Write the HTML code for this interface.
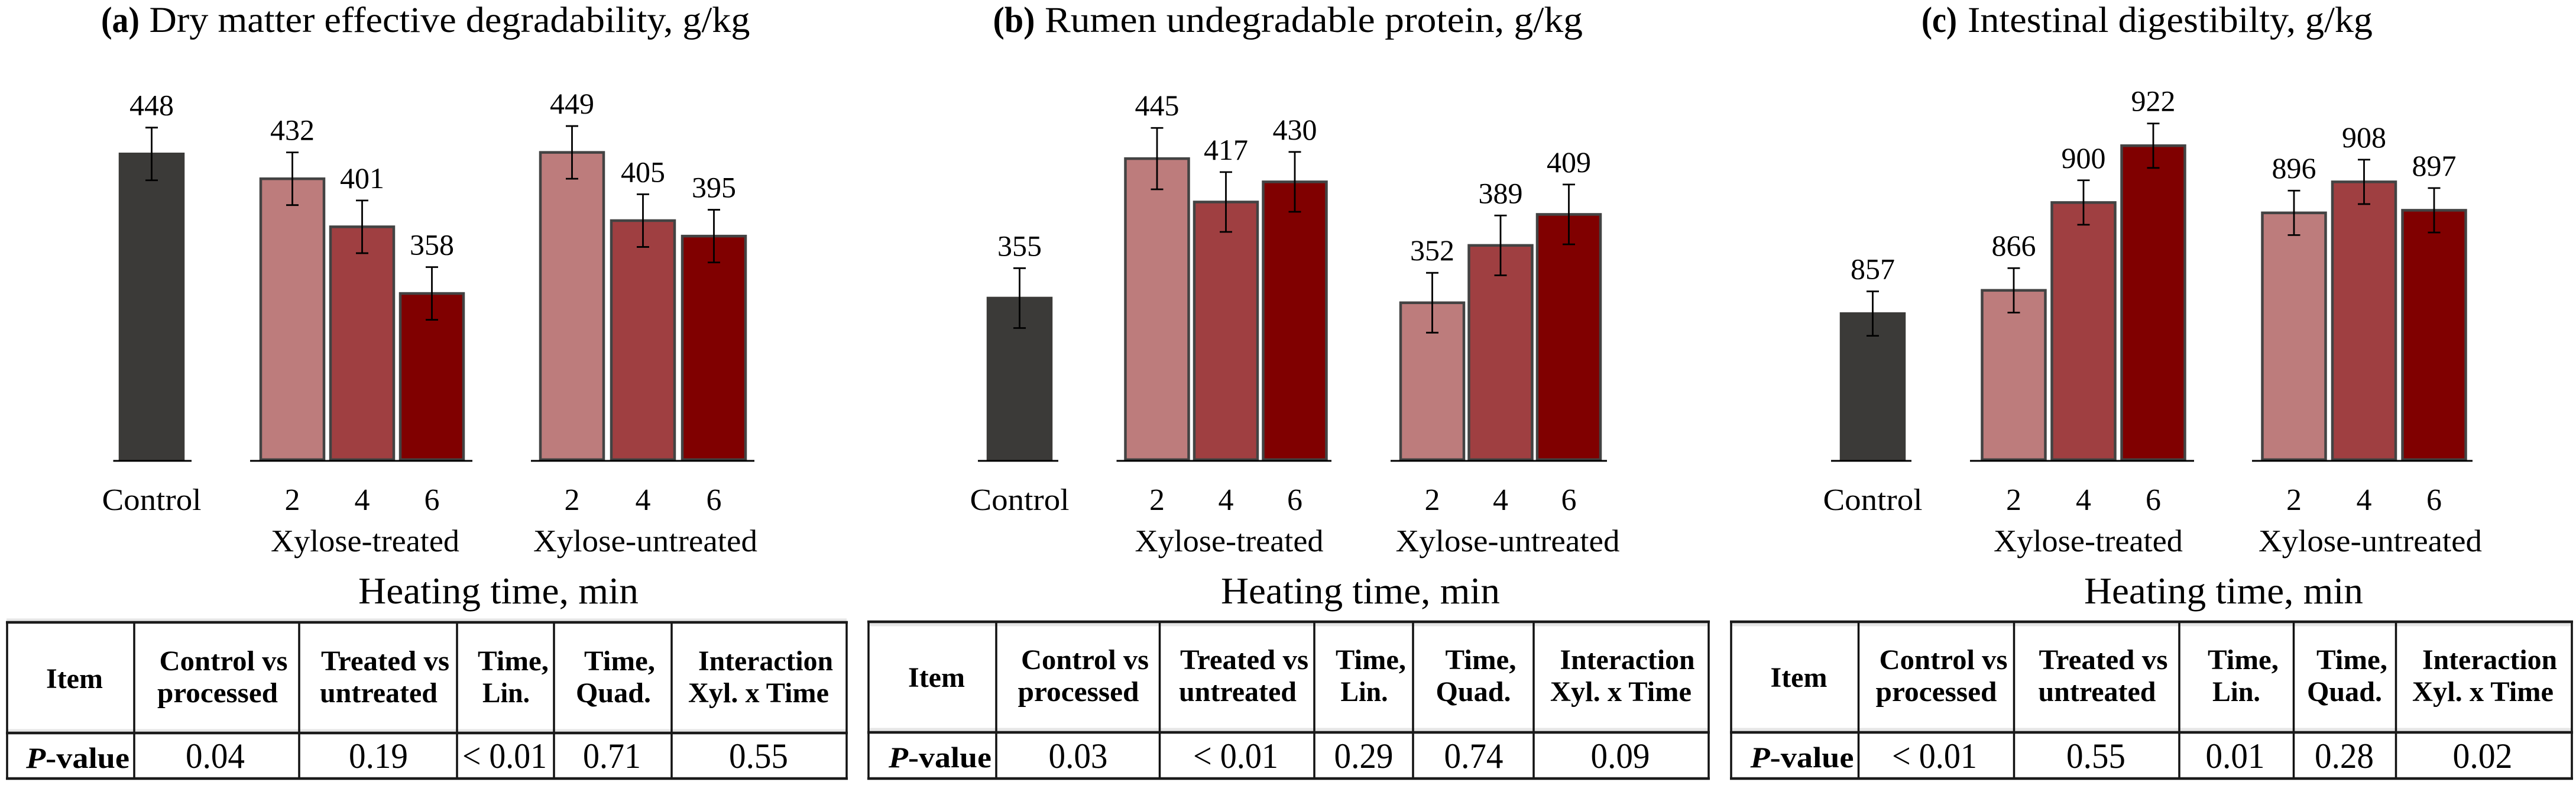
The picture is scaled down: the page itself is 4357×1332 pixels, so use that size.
<!DOCTYPE html>
<html lang="en">
<head>
<meta charset="utf-8">
<title>Xylose heating effects on degradability, protein and digestibility</title>
<style>
html,body{margin:0;padding:0;background:#fff;}
svg{display:block;}
text{font-family:"Liberation Serif",serif;fill:#000;}
.ttl{font-size:61px;}
.b{font-weight:bold;}
.cap{font-size:53px;}
.heat{font-size:63px;}
.th{font-size:48px;font-weight:bold;text-anchor:middle;}
.tv{font-size:60px;text-anchor:middle;}
.pv{font-size:50px;font-weight:bold;}
.pv tspan{font-style:italic;}
.m{text-anchor:middle;}
.halo{stroke:#e6e6e6;stroke-width:7;fill:none;}
.heavy{stroke:#1a1a1a;stroke-width:4.5;fill:none;}
.thin{stroke:#111;stroke-width:3.5;fill:none;}
</style>
</head>
<body>
<svg id="figure" xmlns="http://www.w3.org/2000/svg" width="4357" height="1332" viewBox="0 0 4357 1332">
<rect width="4357" height="1332" fill="#fff"/>

<g>
<text class="ttl b" x="171" y="54" textLength="65" lengthAdjust="spacingAndGlyphs">(a)</text>
<text class="ttl" x="252.5" y="54" textLength="1016" lengthAdjust="spacingAndGlyphs">Dry matter effective degradability, g/kg</text>
<text class="cap m" x="617.5" y="932" textLength="319" lengthAdjust="spacingAndGlyphs">Xylose-treated</text>
<text class="cap m" x="1091.5" y="932" textLength="379" lengthAdjust="spacingAndGlyphs">Xylose-untreated</text>
<text class="heat m" x="843" y="1020" textLength="474" lengthAdjust="spacingAndGlyphs">Heating time, min</text>
</g>
<g>
<text class="ttl b" x="1679.5" y="54" textLength="71" lengthAdjust="spacingAndGlyphs">(b)</text>
<text class="ttl" x="1767" y="54" textLength="910" lengthAdjust="spacingAndGlyphs">Rumen undegradable protein, g/kg</text>
<text class="cap m" x="2079" y="932" textLength="319" lengthAdjust="spacingAndGlyphs">Xylose-treated</text>
<text class="cap m" x="2550" y="932" textLength="379" lengthAdjust="spacingAndGlyphs">Xylose-untreated</text>
<text class="heat m" x="2301" y="1020" textLength="472" lengthAdjust="spacingAndGlyphs">Heating time, min</text>
</g>
<g>
<text class="ttl b" x="3250" y="54" textLength="60" lengthAdjust="spacingAndGlyphs">(c)</text>
<text class="ttl" x="3328" y="54" textLength="685" lengthAdjust="spacingAndGlyphs">Intestinal digestibilty, g/kg</text>
<text class="cap m" x="3532" y="932" textLength="320" lengthAdjust="spacingAndGlyphs">Xylose-treated</text>
<text class="cap m" x="4009" y="932" textLength="378" lengthAdjust="spacingAndGlyphs">Xylose-untreated</text>
<text class="heat m" x="3761" y="1020" textLength="472" lengthAdjust="spacingAndGlyphs">Heating time, min</text>
</g>

<g id="charts"></g>

<g>
<path class="halo" d="M11 1049H1432M11 1236H1432"/>
<path class="thin" d="M12 1052V1316M227 1052V1316M506 1052V1316M773 1052V1316M937 1052V1316M1136 1052V1316M1432 1052V1316"/>
<path class="heavy" d="M10 1052H1434M10 1239H1434M10 1316H1434"/>
<text class="th" x="126" y="1163" textLength="96" lengthAdjust="spacingAndGlyphs">Item</text>
<text class="th" x="378" y="1133" textLength="217" lengthAdjust="spacingAndGlyphs">Control vs</text>
<text class="th" x="368" y="1187" textLength="204" lengthAdjust="spacingAndGlyphs">processed</text>
<text class="th" x="651.5" y="1133" textLength="217" lengthAdjust="spacingAndGlyphs">Treated vs</text>
<text class="th" x="640.5" y="1187" textLength="199" lengthAdjust="spacingAndGlyphs">untreated</text>
<text class="th" x="868" y="1133" textLength="120" lengthAdjust="spacingAndGlyphs">Time,</text>
<text class="th" x="856" y="1187" textLength="80" lengthAdjust="spacingAndGlyphs">Lin.</text>
<text class="th" x="1048" y="1133" textLength="120" lengthAdjust="spacingAndGlyphs">Time,</text>
<text class="th" x="1037.5" y="1187" textLength="127" lengthAdjust="spacingAndGlyphs">Quad.</text>
<text class="th" x="1295" y="1133" textLength="228" lengthAdjust="spacingAndGlyphs">Interaction</text>
<text class="th" x="1283" y="1187" textLength="238" lengthAdjust="spacingAndGlyphs">Xyl. x Time</text>
<text class="pv" x="44" y="1298" textLength="175" lengthAdjust="spacingAndGlyphs"><tspan>P</tspan>-value</text>
<text class="tv" x="364" y="1298" textLength="100" lengthAdjust="spacingAndGlyphs">0.04</text>
<text class="tv" x="640" y="1298" textLength="100" lengthAdjust="spacingAndGlyphs">0.19</text>
<text class="tv" x="853.5" y="1298" textLength="143" lengthAdjust="spacingAndGlyphs">&lt; 0.01</text>
<text class="tv" x="1035" y="1298" textLength="98" lengthAdjust="spacingAndGlyphs">0.71</text>
<text class="tv" x="1283" y="1298" textLength="100" lengthAdjust="spacingAndGlyphs">0.55</text>
</g>

<g>
<path class="halo" d="M1468 1055H2890M1468 1234H2890"/>
<path class="thin" d="M1469 1051V1316M1685 1051V1316M1961.5 1051V1316M2223 1051V1316M2390 1051V1316M2594 1051V1316M2890 1051V1316"/>
<path class="heavy" d="M1467 1051H2892M1467 1238H2892M1467 1316H2892"/>
<text class="th" x="1584" y="1161" textLength="96" lengthAdjust="spacingAndGlyphs">Item</text>
<text class="th" x="1835" y="1131" textLength="216" lengthAdjust="spacingAndGlyphs">Control vs</text>
<text class="th" x="1824" y="1185" textLength="205" lengthAdjust="spacingAndGlyphs">processed</text>
<text class="th" x="2104.5" y="1131" textLength="217" lengthAdjust="spacingAndGlyphs">Treated vs</text>
<text class="th" x="2093.5" y="1185" textLength="199" lengthAdjust="spacingAndGlyphs">untreated</text>
<text class="th" x="2318.5" y="1131" textLength="119" lengthAdjust="spacingAndGlyphs">Time,</text>
<text class="th" x="2307.5" y="1185" textLength="80" lengthAdjust="spacingAndGlyphs">Lin.</text>
<text class="th" x="2504.5" y="1131" textLength="120" lengthAdjust="spacingAndGlyphs">Time,</text>
<text class="th" x="2492" y="1185" textLength="127" lengthAdjust="spacingAndGlyphs">Quad.</text>
<text class="th" x="2752.5" y="1131" textLength="228" lengthAdjust="spacingAndGlyphs">Interaction</text>
<text class="th" x="2741.5" y="1185" textLength="239" lengthAdjust="spacingAndGlyphs">Xyl. x Time</text>
<text class="pv" x="1503" y="1297" textLength="174" lengthAdjust="spacingAndGlyphs"><tspan>P</tspan>-value</text>
<text class="tv" x="1823.5" y="1298" textLength="100" lengthAdjust="spacingAndGlyphs">0.03</text>
<text class="tv" x="2090" y="1298" textLength="144" lengthAdjust="spacingAndGlyphs">&lt; 0.01</text>
<text class="tv" x="2306.5" y="1298" textLength="100" lengthAdjust="spacingAndGlyphs">0.29</text>
<text class="tv" x="2492.5" y="1298" textLength="100" lengthAdjust="spacingAndGlyphs">0.74</text>
<text class="tv" x="2740.5" y="1298" textLength="100" lengthAdjust="spacingAndGlyphs">0.09</text>
</g>

<g>
<path class="halo" d="M2927 1055H4350M2927 1234H4350"/>
<path class="thin" d="M2928 1051V1316M3143.5 1051V1316M3406.5 1051V1316M3686 1051V1316M3879.5 1051V1316M4052.5 1051V1316M4350 1051V1316"/>
<path class="heavy" d="M2926 1051H4352M2926 1238H4352M2926 1316H4352"/>
<text class="th" x="3042.5" y="1161" textLength="96" lengthAdjust="spacingAndGlyphs">Item</text>
<text class="th" x="3287" y="1131" textLength="217" lengthAdjust="spacingAndGlyphs">Control vs</text>
<text class="th" x="3275" y="1185" textLength="205" lengthAdjust="spacingAndGlyphs">processed</text>
<text class="th" x="3557.5" y="1131" textLength="218" lengthAdjust="spacingAndGlyphs">Treated vs</text>
<text class="th" x="3547" y="1185" textLength="199" lengthAdjust="spacingAndGlyphs">untreated</text>
<text class="th" x="3794" y="1131" textLength="120" lengthAdjust="spacingAndGlyphs">Time,</text>
<text class="th" x="3782.5" y="1185" textLength="81" lengthAdjust="spacingAndGlyphs">Lin.</text>
<text class="th" x="3978" y="1131" textLength="120" lengthAdjust="spacingAndGlyphs">Time,</text>
<text class="th" x="3965.5" y="1185" textLength="127" lengthAdjust="spacingAndGlyphs">Quad.</text>
<text class="th" x="4211" y="1131" textLength="228" lengthAdjust="spacingAndGlyphs">Interaction</text>
<text class="th" x="4199.5" y="1185" textLength="239" lengthAdjust="spacingAndGlyphs">Xyl. x Time</text>
<text class="pv" x="2960.5" y="1297" textLength="175" lengthAdjust="spacingAndGlyphs"><tspan>P</tspan>-value</text>
<text class="tv" x="3272" y="1298" textLength="144" lengthAdjust="spacingAndGlyphs">&lt; 0.01</text>
<text class="tv" x="3545" y="1298" textLength="100" lengthAdjust="spacingAndGlyphs">0.55</text>
<text class="tv" x="3780.5" y="1298" textLength="100" lengthAdjust="spacingAndGlyphs">0.01</text>
<text class="tv" x="3965" y="1298" textLength="100" lengthAdjust="spacingAndGlyphs">0.28</text>
<text class="tv" x="4199" y="1298" textLength="101" lengthAdjust="spacingAndGlyphs">0.02</text>
</g>
</svg>

<script>
// Chart data
const categories = ['Control', '2', '4', '6', '2', '4', '6'];
const groups = ['control', 'treated', 'treated', 'treated', 'untreated', 'untreated', 'untreated'];
const groupIndex = [0, 0, 1, 2, 0, 1, 2];

const degradabilityValues = [448, 432, 401, 358, 449, 405, 395];
const degradabilityErrors = [17, 17, 17, 17, 17, 17, 17];
const degradabilityDomain = [250, 500];

const proteinValues = [355, 445, 417, 430, 352, 389, 409];
const proteinErrors = [19.3, 19.8, 19.3, 19.3, 19.3, 19.3, 19.3];
const proteinDomain = [250, 500];

const digestibilityValues = [857, 866, 900, 922, 896, 908, 897];
const digestibilityErrors = [8.6, 8.6, 8.6, 8.6, 8.6, 8.6, 8.6];
const digestibilityDomain = [800, 950];

// Layout (not data)
const NS = 'http://www.w3.org/2000/svg';
const BASELINE = 779;
const BAR_BOTTOM = 777;
const PLOT_HEIGHT = 655;
const BAR_WIDTH = 107;
const CAP_WIDTH = 21;
const LABEL_GAP = 21;
const TICK_BASELINE = 862;
const CONTROL_LABEL_WIDTH = 168;
const fills = ['#3b3a38', '#bd7c7c', '#9f3f41', '#800000', '#bd7c7c', '#9f3f41', '#800000'];
const strokes = ['#3b3a38', '#434343', '#434343', '#434343', '#434343', '#434343', '#434343'];

const panels = [
  { id: 'a', values: degradabilityValues, errors: degradabilityErrors, domain: degradabilityDomain,
    axis: { control: [256.5, 0], treated: [494.5, 118], untreated: [967.5, 120] },
    spans: [[191.5, 324], [423, 799], [898, 1276]] },
  { id: 'b', values: proteinValues, errors: proteinErrors, domain: proteinDomain,
    axis: { control: [1724.5, 0], treated: [1957, 116.5], untreated: [2422.5, 115.5] },
    spans: [[1654, 1790], [1888.5, 2252], [2352, 2718]] },
  { id: 'c', values: digestibilityValues, errors: digestibilityErrors, domain: digestibilityDomain,
    axis: { control: [3167.5, 0], treated: [3406, 118], untreated: [3880, 118.5] },
    spans: [[3097, 3233], [3332, 3711], [3809, 4182]] }
];

function xPos(panel, i) {
  const a = panel.axis[groups[i]];
  return a[0] + groupIndex[i] * a[1];
}
function yPos(panel, v) {
  const d = panel.domain;
  return BASELINE - (v - d[0]) / (d[1] - d[0]) * PLOT_HEIGHT;
}
function make(tag, parent, attrs) {
  const el = document.createElementNS(NS, tag);
  for (const k in attrs) el.setAttribute(k, attrs[k]);
  parent.appendChild(el);
  return el;
}

const root = document.getElementById('charts');
panels.forEach(function (panel) {
  const g = make('g', root, {});
  
  

  panel.values.forEach(function (v, i) {
    const cx = xPos(panel, i);
    const y = yPos(panel, v);
    const yHi = yPos(panel, v + panel.errors[i]);
    const yLo = yPos(panel, v - panel.errors[i]);
    const key = panel.id + '-' + groups[i] + '-' + categories[i].toLowerCase();

    const bar = make('rect', g, { x: cx - BAR_WIDTH / 2, y: y, width: BAR_WIDTH, height: BAR_BOTTOM - y,
      fill: fills[i], stroke: strokes[i], 'stroke-width': 4.5 });
    
    

    const err = make('path', g, { d: 'M' + (cx - CAP_WIDTH / 2) + ' ' + yHi + 'H' + (cx + CAP_WIDTH / 2) +
      'M' + cx + ' ' + yHi + 'V' + yLo + 'M' + (cx - CAP_WIDTH / 2) + ' ' + yLo + 'H' + (cx + CAP_WIDTH / 2),
      fill: 'none', stroke: '#000', 'stroke-width': 2.8 });
    
    

    const lab = make('text', g, { x: cx, y: yHi - LABEL_GAP, 'text-anchor': 'middle', 'font-size': 50 });
    lab.textContent = String(v);
    
    

    const tick = make('text', g, { x: cx, y: TICK_BASELINE, 'text-anchor': 'middle', 'font-size': 52 });
    tick.textContent = categories[i];
    if (groups[i] === 'control') {
      tick.setAttribute('textLength', CONTROL_LABEL_WIDTH);
      tick.setAttribute('lengthAdjust', 'spacingAndGlyphs');
    }
    
    
  });

  panel.spans.forEach(function (s, k) {
    const line = make('line', g, { x1: s[0], x2: s[1], y1: BASELINE, y2: BASELINE, stroke: '#000', 'stroke-width': 3 });
    
    
  });
});
</script>
</body>
</html>
